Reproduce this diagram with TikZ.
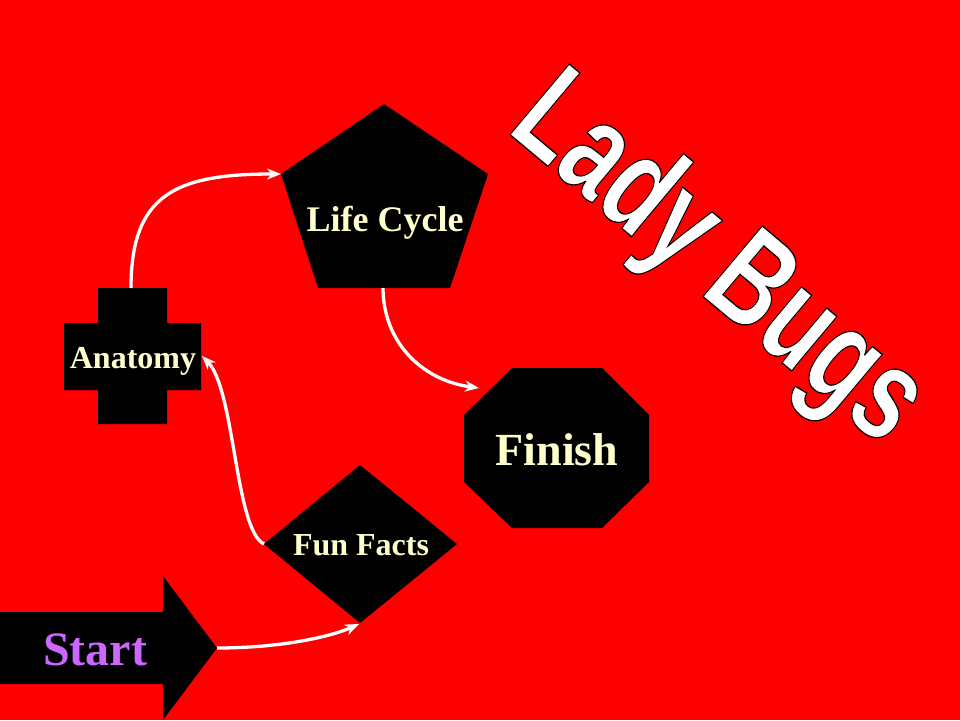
\documentclass[tikz,border=0pt]{standalone}
\usepackage{fontspec}
\setmainfont{Liberation Serif}
\newfontfamily\titlefont{Liberation Sans}
\usetikzlibrary{arrows.meta}
\definecolor{bgred}{RGB}{255,0,0}
\definecolor{cream}{RGB}{255,255,204}
\definecolor{startpurple}{RGB}{204,102,255}
\newcommand\outlinedtitle[1]{%
  \special{pdf:code 2 Tr 1.3 w 0 G}#1\special{pdf:code 0 Tr}}
\begin{document}
\begin{tikzpicture}[x=1pt,y=-1pt,
  blackshape/.style={fill=black},
  lbl/.style={text=cream,anchor=base,inner sep=0pt,font=\bfseries\fontsize{32}{38}\selectfont},
  link/.style={draw=white,line width=3.3pt,-{Stealth[length=14pt,width=11pt]}},
  titletext/.style={rotate=-40,anchor=base,inner sep=0pt,font=\titlefont\bfseries\fontsize{134}{140}\selectfont}]
\fill[bgred] (0,0) rectangle (960,720);
\useasboundingbox (0,0) rectangle (960,720);

% Anatomy cross
\fill[blackshape] (98,288) -- (167,288) -- (167,323) -- (201,323) -- (201,390) -- (167,390)
  -- (167,424) -- (98,424) -- (98,390) -- (64,390) -- (64,323) -- (98,323) -- cycle;
\node[lbl] (anatomy) at (133,368) {Anatomy};

% Life Cycle pentagon
\fill[blackshape] (384,104) -- (488,174) -- (450,288) -- (318,288) -- (281,174) -- cycle;
\node[lbl,font=\bfseries\fontsize{36}{42}\selectfont] (lifecycle) at (385,231) {Life Cycle};

% Finish octagon
\fill[blackshape] (512,368) -- (602,368) -- (649,415) -- (649,482) -- (602,528) -- (512,528)
  -- (464,482) -- (464,415) -- cycle;
\node[lbl,font=\bfseries\fontsize{46}{52}\selectfont] (finish) at (557,465) {Finish};

% Fun Facts diamond
\fill[blackshape] (360,465) -- (457,544) -- (360,623) -- (264,544) -- cycle;
\node[lbl] (funfacts) at (361,555) {Fun Facts};

% Start arrow
\fill[blackshape] (0,612) -- (163,612) -- (163,576) -- (217,648) -- (163,720) -- (163,684)
  -- (0,684) -- cycle;
\node[lbl,text=startpurple,font=\bfseries\fontsize{48}{54}\selectfont] (start) at (95,665) {Start};

% connector end points
\coordinate (anatTop) at (131,288);
\coordinate (anatRight) at (202,356);
\coordinate (lifeLeft) at (281,174);
\coordinate (lifeBottom) at (383,288);
\coordinate (finishCorner) at (479,388);
\coordinate (funLeft) at (264,544);
\coordinate (funBottom) at (359,624);
\coordinate (startTip) at (217,648);

\draw[link] (anatTop) .. controls (131,195) and (175,174) .. (lifeLeft);
\draw[link] (lifeBottom) .. controls (383,340) and (420,380) .. (finishCorner);
\draw[link] (funLeft) .. controls (235,530) and (235,390) .. (anatRight);
\draw[link] (startTip) .. controls (280,648) and (330,637) .. (funBottom);

% Title (white letters with a thin black outline)
\node[titletext,text=white] (title) at (694,289)
  {\scalebox{0.72}[1]{\outlinedtitle{Lady Bugs}}};
\end{tikzpicture}
\end{document}
